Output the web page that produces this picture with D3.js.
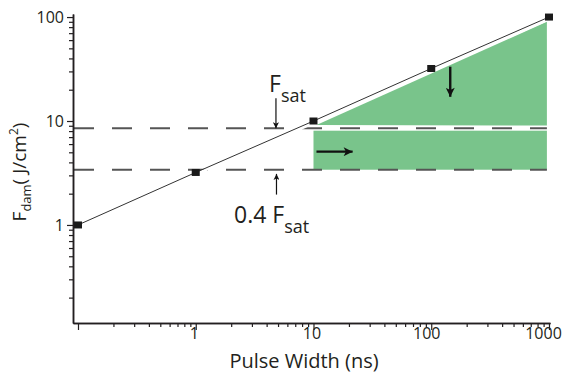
<!DOCTYPE html>
<html><head><meta charset="utf-8">
<script src="https://cdn.jsdelivr.net/npm/d3@7"></script>
<style>
body{margin:0;background:#fff}
svg{display:block}
text{font-family:"Open Sans",sans-serif;fill:#231f20}
</style>
</head><body>
<svg id="c" width="565" height="375"></svg>
<script>
// ---- data ----
const pulseWidths = [0.1, 1, 10, 100, 1000];
const damageFluence = [1, 3.2, 10, 32, 100];
const xMajorTicks = [0.1, 1, 10, 100, 1000];
const xTickLabels = ["", "1", "10", "100", "1000"];
const yMajorTicks = [1, 10, 100];
const yTickLabels = ["1", "10", "100"];
const fSat = 8.5;
const fSat04 = 3.4;
const dashEndX = 960;
const upperRegionX = [10.6, 960, 960];
const upperRegionY = [9.15, 90, 9.05];
const lowerRegionX = [10, 960];
const lowerRegionY = [3.4, 8.07];
const downArrowX = [145, 145];
const downArrowY = [33.3, 17.1];
const rightArrowX = [10.6, 21.5];
const rightArrowY = [5.07, 5.07];
const fSatArrowX = [4.8, 4.8];
const fSatArrowY = [16.6, 8.5];
const fSat04ArrowX = [4.85, 4.85];
const fSat04ArrowY = [1.96, 3.1];

const svg = d3.select("#c");
const x = d3.scaleLog().domain([0.0907, 1020]).range([73, 550]);
const y = d3.scaleLog().domain([0.114, 107]).range([323, 14]);
const green = "#79c48b";

const defs = svg.append("defs");
function marker(id, w, h) {
  defs.append("marker").attr("id", id).attr("viewBox", "0 0 10 10")
    .attr("refX", 10).attr("refY", 5).attr("markerUnits", "userSpaceOnUse")
    .attr("markerWidth", w).attr("markerHeight", h).attr("orient", "auto")
    .append("path").attr("d", "M0,0 L10,5 L0,10 L2.5,5 Z").attr("fill", "#111");
}
marker("ah", 9, 6);
marker("ahBig", 12, 9);

// green regions
svg.append("path")
  .attr("d", d3.line()(upperRegionX.map((v, i) => [x(v), y(upperRegionY[i])])) + "Z")
  .attr("fill", green);
svg.append("rect")
  .attr("x", x(lowerRegionX[0])).attr("width", x(lowerRegionX[1]) - x(lowerRegionX[0]))
  .attr("y", y(lowerRegionY[1])).attr("height", y(lowerRegionY[0]) - y(lowerRegionY[1]))
  .attr("fill", green);

// dashed lines
[fSat, fSat04].forEach(v => {
  svg.append("line")
    .attr("x1", x.range()[0]).attr("x2", x(dashEndX))
    .attr("y1", y(v)).attr("y2", y(v))
    .attr("stroke", "#555").attr("stroke-width", 2)
    .attr("stroke-dasharray", "20,18").attr("stroke-dashoffset", -1);
});

// fit line (white under-band + black line)
const pts = pulseWidths.map((v, i) => [x(v), y(damageFluence[i])]);
svg.append("path").attr("d", d3.line()(pts.map(p => [p[0], p[1] + 1.8])))
  .attr("fill", "none").attr("stroke", "#fff").attr("stroke-width", 3);
svg.append("path").attr("d", d3.line()(pts))
  .attr("fill", "none").attr("stroke", "#333").attr("stroke-width", 1);

// markers
svg.selectAll("rect.pt").data(pts).join("rect").attr("class", "pt")
  .attr("x", d => d[0] - 4).attr("y", d => d[1] - 3.5)
  .attr("width", 8).attr("height", 7).attr("fill", "#1a1a1a");

// arrows
function arrow(xs, ys, w, m) {
  svg.append("line")
    .attr("x1", x(xs[0])).attr("y1", y(ys[0]))
    .attr("x2", x(xs[1])).attr("y2", y(ys[1]))
    .attr("stroke", "#111").attr("stroke-width", w)
    .attr("marker-end", `url(#${m})`);
}
arrow(downArrowX, downArrowY, 2.4, "ahBig");
arrow(rightArrowX, rightArrowY, 2.4, "ahBig");
arrow(fSatArrowX, fSatArrowY, 1.2, "ah");
arrow(fSat04ArrowX, fSat04ArrowY, 1.2, "ah");

// axes
const xMinor = x.ticks().filter(t => !xMajorTicks.some(m => Math.abs(m - t) / m < 1e-6));
const yMinor = y.ticks().filter(t => !yMajorTicks.some(m => Math.abs(m - t) / m < 1e-6));

const gx = svg.append("g").attr("transform", `translate(0,${y.range()[0]})`);
gx.append("g").call(d3.axisBottom(x).tickValues(xMinor).tickSize(4).tickFormat("").tickSizeOuter(0));
gx.append("g").call(d3.axisBottom(x).tickValues(xMajorTicks).tickSize(7).tickSizeOuter(0)
  .tickFormat((d, i) => xTickLabels[i]));
const gy = svg.append("g").attr("transform", `translate(${x.range()[0]},0)`);
gy.append("g").call(d3.axisLeft(y).tickValues(yMinor).tickSize(4).tickFormat("").tickSizeOuter(0));
gy.append("g").call(d3.axisLeft(y).tickValues(yMajorTicks).tickSize(6).tickSizeOuter(0)
  .tickFormat((d, i) => yTickLabels[i]));
svg.selectAll(".domain").attr("stroke", "#231f20").attr("stroke-width", 1.5);
svg.selectAll(".tick line").attr("stroke", "#231f20").attr("stroke-width", 1.2);
svg.selectAll(".tick text").attr("font-family", '"Open Sans",sans-serif')
  .attr("font-size", 16).attr("fill", "#231f20");
const xLabelShift = [0, -2, -2, -5, -6];
gx.selectAll(".tick text").attr("y", 5).attr("dy", "0.71em")
  .attr("dx", (d) => xLabelShift[xMajorTicks.indexOf(d)] || 0);
gy.selectAll(".tick text").attr("x", -9);

// axis titles
svg.append("text").attr("x", 304).attr("y", 368).attr("text-anchor", "middle")
  .attr("font-size", 20).text("Pulse Width (ns)");
const yl = svg.append("text").attr("transform", "translate(26,172) rotate(-90)")
  .attr("text-anchor", "middle").attr("font-size", 19);
yl.append("tspan").text("F");
yl.append("tspan").attr("font-size", 13).attr("dy", 5).text("dam");
yl.append("tspan").attr("dy", -5).text("( J/cm");
yl.append("tspan").attr("font-size", 12).attr("dy", -8).text("2");
yl.append("tspan").attr("dy", 8).text(")");

// annotations
const a1 = svg.append("text").attr("x", 269).attr("y", 92).attr("font-size", 23);
a1.append("tspan").text("F");
a1.append("tspan").attr("font-size", 18).attr("dy", 10).text("sat");
const a2 = svg.append("text").attr("x", 234).attr("y", 223).attr("font-size", 23);
a2.append("tspan").text("0.4 F");
a2.append("tspan").attr("font-size", 18).attr("dy", 10).text("sat");
</script>
</body></html>
